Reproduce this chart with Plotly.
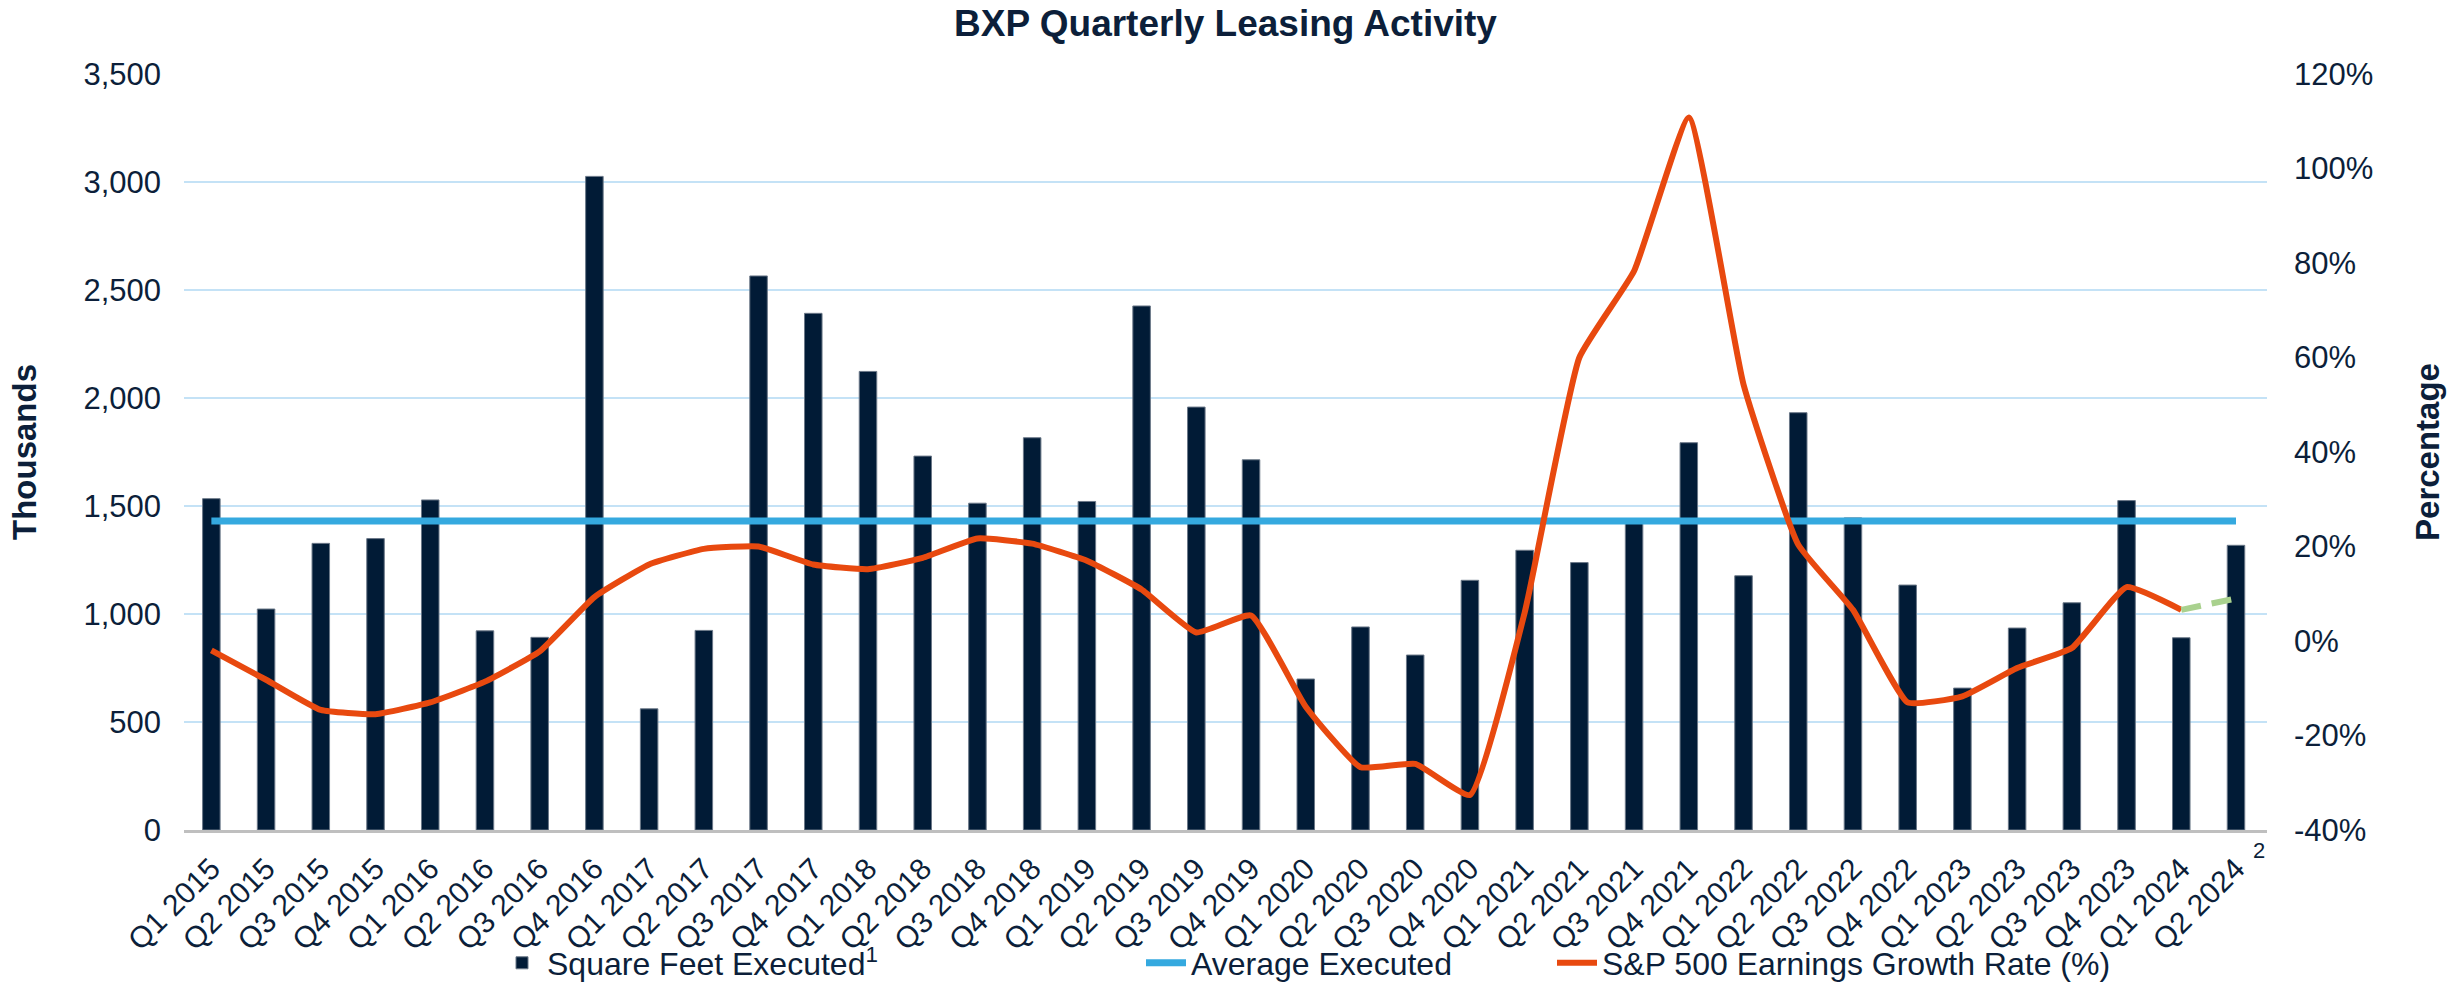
import plotly.graph_objects as go

# ---------------- data ----------------
quarters = [
    "Q1 2015", "Q2 2015", "Q3 2015", "Q4 2015",
    "Q1 2016", "Q2 2016", "Q3 2016", "Q4 2016",
    "Q1 2017", "Q2 2017", "Q3 2017", "Q4 2017",
    "Q1 2018", "Q2 2018", "Q3 2018", "Q4 2018",
    "Q1 2019", "Q2 2019", "Q3 2019", "Q4 2019",
    "Q1 2020", "Q2 2020", "Q3 2020", "Q4 2020",
    "Q1 2021", "Q2 2021", "Q3 2021", "Q4 2021",
    "Q1 2022", "Q2 2022", "Q3 2022", "Q4 2022",
    "Q1 2023", "Q2 2023", "Q3 2023", "Q4 2023",
    "Q1 2024", "Q2 2024",
]

# Square feet executed (thousands)
square_feet_executed = [
    1534, 1023, 1327, 1349,
    1528, 922, 892, 3026,
    561, 924, 2565, 2392,
    2123, 1731, 1513, 1816,
    1521, 2426, 1958, 1714,
    699, 940, 810, 1156,
    1295, 1238, 1440, 1793,
    1177, 1932, 1445, 1134,
    657, 935, 1052, 1525,
    890, 1318,
]

# Average executed (thousands)
average_executed = 1430

# S&P 500 earnings growth rate (%), Q1 2015 .. Q1 2024
sp500_quarters = quarters[:37]
sp500_growth = [
    -2.0, -8.2, -14.6, -15.5,
    -13.0, -8.6, -2.2, 9.3,
    16.2, 19.5, 20.0, 16.2,
    15.2, 17.6, 21.7, 20.6,
    17.0, 10.9, 1.8, 5.4,
    -13.9, -26.7, -26.0, -32.6,
    6.0, 60.0, 78.3, 110.8,
    54.3, 20.4, 6.6, -13.0,
    -11.7, -5.7, -1.5, 11.4,
    6.6,
]

# Estimated segment (dashed green)
estimate_quarters = ["Q1 2024", "Q2 2024"]
estimate_growth = [6.6, 9.0]

left_ticks = [0, 500, 1000, 1500, 2000, 2500, 3000, 3500]
left_tick_text = ["0", "500", "1,000", "1,500", "2,000", "2,500", "3,000", "3,500"]
right_ticks = [-40, -20, 0, 20, 40, 60, 80, 100, 120]
right_tick_text = ["-40%", "-20%", "0%", "20%", "40%", "60%", "80%", "100%", "120%"]

# ---------------- styling ----------------
NAVY = "#011b36"
TEXT = "#0c1f3a"
FONT = "Liberation Sans, Arial, sans-serif"
GRID = "#c4e2f6"
BLUE = "#35a9df"
ORANGE = "#e8490f"
GREEN = "#a9d18e"

fig = go.Figure()

fig.add_trace(go.Bar(
    x=quarters, y=square_feet_executed,
    name="Square Feet Executed<sup>1</sup>",
    marker=dict(color=NAVY, line=dict(color="#6b7888", width=1)),
    yaxis="y", legend="legend",
))

fig.add_trace(go.Scatter(
    x=quarters, y=[average_executed] * len(quarters),
    name="Average Executed", mode="lines",
    line=dict(color=BLUE, width=7),
    yaxis="y", legend="legend2",
))

fig.add_trace(go.Scatter(
    x=sp500_quarters, y=sp500_growth,
    name="S&P 500 Earnings Growth Rate (%)", mode="lines",
    line=dict(color=ORANGE, width=6, shape="spline", smoothing=0.4),
    yaxis="y2", legend="legend3",
))

fig.add_trace(go.Scatter(
    x=estimate_quarters, y=estimate_growth,
    mode="lines", showlegend=False,
    line=dict(color=GREEN, width=6, dash="20px,11px"),
    yaxis="y2",
))

legend_common = dict(
    orientation="h", xref="container", yref="container",
    yanchor="middle", xanchor="left",
    font=dict(family=FONT, size=32, color=TEXT),
    bgcolor="rgba(0,0,0,0)", itemwidth=40,
)

LEG_Y = 1 - 963 / 984

fig.update_layout(
    width=2463, height=984,
    template="none",
    paper_bgcolor="white", plot_bgcolor="white",
    margin=dict(l=184, r=196, t=74, b=154, autoexpand=False),
    font=dict(family=FONT, color=TEXT, size=31),
    title=dict(
        text="<b>BXP Quarterly Leasing Activity</b>",
        font=dict(family=FONT, size=37, color=TEXT),
        x=0.5, xref="paper", xanchor="center",
        y=1 - 23 / 984, yref="container", yanchor="middle",
    ),
    bargap=0.68,
    xaxis=dict(
        type="category", tickangle=-45,
        tickfont=dict(family=FONT, size=30, color=TEXT),
        showgrid=False, showline=True, linecolor="#bfbfbf", linewidth=3,
        ticks="", automargin=False, ticklabelstandoff=6,
    ),
    yaxis=dict(
        range=[0, 3500], tickmode="array", tickvals=left_ticks, ticktext=left_tick_text,
        showgrid=True, gridcolor=GRID, gridwidth=2,
        zeroline=False, showline=False, ticks="",
        tickfont=dict(family=FONT, size=31, color=TEXT),
        ticklabelstandoff=22, automargin=False,
        title=dict(text="<b>Thousands</b>", font=dict(family=FONT, size=33, color=TEXT), standoff=36),
    ),
    yaxis2=dict(
        range=[-40, 120], tickmode="array", tickvals=right_ticks, ticktext=right_tick_text,
        overlaying="y", side="right",
        showgrid=False, zeroline=False, showline=False, ticks="",
        tickfont=dict(family=FONT, size=31, color=TEXT),
        ticklabelstandoff=26, automargin=False,
        title=dict(text="<b>Percentage</b>", font=dict(family=FONT, size=33, color=TEXT), standoff=43),
    ),
    legend=dict(legend_common, x=(550 - 53) / 2463, y=LEG_Y),
    legend2=dict(legend_common, x=(1194 - 53) / 2463, y=LEG_Y),
    legend3=dict(legend_common, x=(1605 - 53) / 2463, y=LEG_Y),
    annotations=[
        dict(
            text="2", x="Q2 2024", xref="x", y=0, yref="paper",
            xshift=23, yshift=-35, showarrow=False,
            font=dict(family=FONT, size=22, color=TEXT),
        )
    ],
)

fig.write_html(
    "out.html",
    config={"displayModeBar": False},
    post_script="document.body.style.margin='0';document.body.style.padding='0';"
                "document.documentElement.style.overflow='hidden';",
)
